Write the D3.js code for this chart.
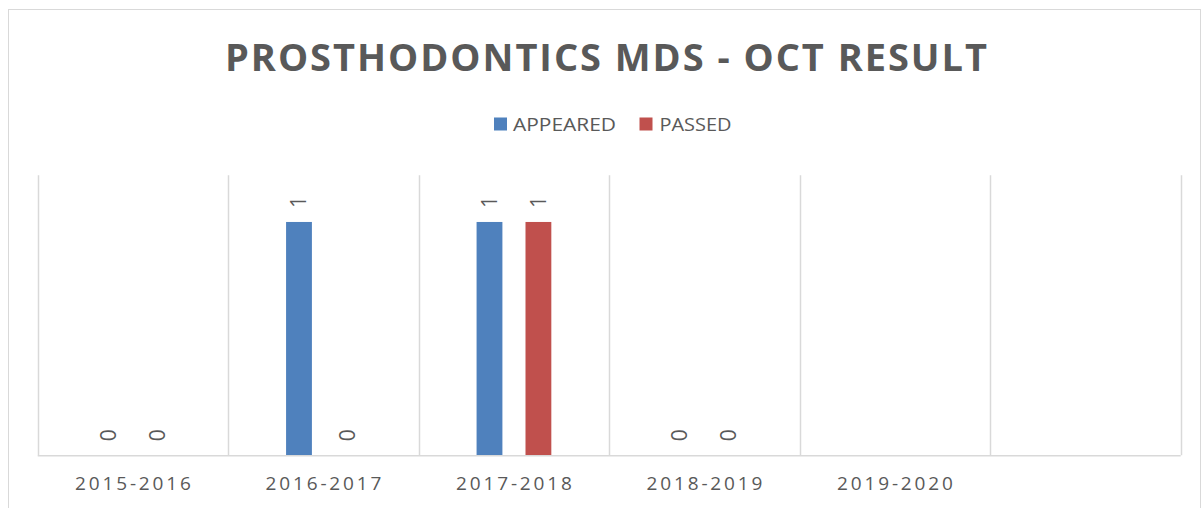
<!DOCTYPE html>
<html>
<head>
<meta charset="utf-8">
<script src="https://cdn.jsdelivr.net/npm/d3@7"></script>
<style>
  html, body { margin: 0; padding: 0; background: #fff; }
  svg { display: block; }
  text { font-family: "Open Sans", "DejaVu Sans", sans-serif; }
</style>
</head>
<body>
<svg id="chart" width="1201" height="508"></svg>
<script>
const title = "PROSTHODONTICS MDS - OCT RESULT";
const categories = ["2015-2016", "2016-2017", "2017-2018", "2018-2019", "2019-2020", ""];
const seriesNames = ["APPEARED", "PASSED"];
const appeared = [0, 1, 1, 0, null, null];
const passed = [0, 0, 1, 0, null, null];
const colors = ["#4f81bd", "#c0504d"];

const W = 1201, H = 508;
const svg = d3.select("#chart");
const textColor = "#595959";
const gridColor = "#d9d9d9";

// chart border
svg.append("rect")
  .attr("x", 8.5).attr("y", 9.5)
  .attr("width", 1192).attr("height", 520)
  .attr("fill", "none").attr("stroke", gridColor).attr("stroke-width", 1);

const plot = { left: 37.7, right: 1180.7, top: 175.3, bottom: 455.3 };

const x0 = d3.scaleBand().domain(categories).range([plot.left, plot.right]).paddingInner(0).paddingOuter(0);
const x1 = d3.scaleBand().domain(seriesNames).range([0, x0.bandwidth()]).paddingInner(0.472).paddingOuter(1.183);
const y = d3.scaleLinear().domain([0, 1.2]).range([plot.bottom, plot.top]);

// vertical gridlines at category boundaries
const bounds = categories.map(c => x0(c)).concat([x0.range()[1]]);
svg.append("g").selectAll("line").data(bounds).join("line")
  .attr("x1", d => Math.round(d) + 0.5).attr("x2", d => Math.round(d) + 0.5)
  .attr("y1", y(1.2)).attr("y2", y(0))
  .attr("stroke", gridColor).attr("stroke-width", 1.5);

// bars
const rows = categories.map((c, i) => ({ cat: c, vals: [appeared[i], passed[i]] }));
const groups = svg.append("g").selectAll("g").data(rows).join("g")
  .attr("transform", d => `translate(${x0(d.cat)},0)`);

groups.selectAll("rect")
  .data(d => d.vals.map((v, j) => ({ v, s: seriesNames[j], j })).filter(e => e.v !== null))
  .join("rect")
  .attr("x", e => x1(e.s))
  .attr("width", x1.bandwidth())
  .attr("y", e => y(e.v))
  .attr("height", e => y(0) - y(e.v))
  .attr("fill", e => colors[e.j]);

// data labels (rotated)
groups.selectAll("text.lbl")
  .data(d => d.vals.map((v, j) => ({ v, s: seriesNames[j], j })).filter(e => e.v !== null))
  .join("text")
  .attr("class", "lbl")
  .attr("transform", e => `translate(${x1(e.s) + x1.bandwidth() / 2},${y(e.v) - 20}) rotate(-90)`)
  .attr("text-anchor", "middle")
  .attr("dy", "0.35em")
  .attr("font-size", 21)
  .attr("fill", textColor)
  .text(e => e.v);

// x axis
const xAxis = d3.axisBottom(x0).tickSize(0).tickPadding(0);
const axG = svg.append("g").attr("transform", `translate(0,${plot.bottom})`).call(xAxis);
axG.select(".domain").attr("stroke", gridColor).attr("stroke-width", 1.5)
  .attr("d", `M${plot.left},0.5H${plot.right}`);
axG.selectAll(".tick text")
  .attr("y", 35).attr("dy", 0)
  .attr("font-size", 19)
  .attr("font-family", "'Open Sans', sans-serif")
  .attr("fill", textColor)
  .each(function (d) { if (d) d3.select(this).attr("textLength", 116).attr("lengthAdjust", "spacing"); });

// title
svg.append("text")
  .attr("x", 606).attr("y", 71)
  .attr("text-anchor", "middle")
  .attr("font-size", 38).attr("font-weight", "bold")
  .attr("fill", textColor)
  .attr("textLength", 762).attr("lengthAdjust", "spacing")
  .text(title);

// legend
const legendItems = [
  { name: seriesNames[0], color: colors[0], sx: 494, tx: 513, tw: 103 },
  { name: seriesNames[1], color: colors[1], sx: 639.5, tx: 659.5, tw: 72 }
];
const lg = svg.append("g");
legendItems.forEach(it => {
  lg.append("rect").attr("x", it.sx).attr("y", 117.5).attr("width", 13).attr("height", 13).attr("fill", it.color);
  lg.append("text").attr("x", it.tx).attr("y", 130.5)
    .attr("font-size", 19).attr("fill", textColor)
    .attr("textLength", it.tw).attr("lengthAdjust", "spacingAndGlyphs")
    .text(it.name);
});
</script>
</body>
</html>
